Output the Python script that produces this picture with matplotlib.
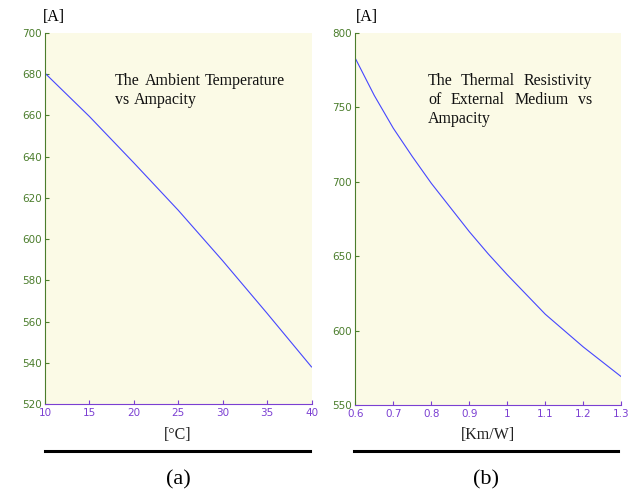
import matplotlib
matplotlib.use("Agg")
import matplotlib.pyplot as plt
from matplotlib.lines import Line2D

# ---- data ----
temp_c = [10, 15, 20, 25, 30, 35, 40]
amp_temp = [680.5, 659.5, 637, 614, 589.5, 564, 538]
temp_ticks = [10, 15, 20, 25, 30, 35, 40]
temp_yticks = [520, 540, 560, 580, 600, 620, 640, 660, 680, 700]

rho = [0.6, 0.65, 0.7, 0.75, 0.8, 0.9, 0.95, 1.0, 1.1, 1.2, 1.3]
amp_rho = [783, 758, 736, 717, 699, 666.5, 651.5, 637.5, 611, 589, 569]
rho_ticks = [0.6, 0.7, 0.8, 0.9, 1.0, 1.1, 1.2, 1.3]
rho_ticklabels = ["0.6", "0.7", "0.8", "0.9", "1", "1.1", "1.2", "1.3"]
rho_yticks = [550, 600, 650, 700, 750, 800]

# ---- style ----
BG = "#fbfae6"
GREEN = "#4b7d2c"
PURPLE = "#7b3fd2"
BLUE = "#4646ff"
SERIF = ["Liberation Serif", "DejaVu Serif"]
SANS = ["DejaVu Sans"]

W, H = 637, 497
fig = plt.figure(figsize=(W / 100, H / 100), dpi=100)


def px_axes(l, t, r, b):
    return fig.add_axes([l / W, 1 - b / H, (r - l) / W, (b - t) / H])


def style(ax):
    ax.set_facecolor(BG)
    for s in ("top", "right"):
        ax.spines[s].set_visible(False)
    ax.spines["left"].set_color(GREEN)
    ax.spines["bottom"].set_color(PURPLE)
    ax.tick_params(axis="y", direction="in", length=3, color=GREEN,
                   labelcolor=GREEN, labelsize=7.5, pad=2.5)
    ax.tick_params(axis="x", direction="in", length=3, color=PURPLE,
                   labelcolor=PURPLE, labelsize=7.5, pad=3)
    for lab in ax.get_xticklabels() + ax.get_yticklabels():
        lab.set_family(SANS)


ax1 = px_axes(45, 33, 311.5, 404)
ax1.plot(temp_c, amp_temp, color=BLUE, lw=0.8)
ax1.set_xlim(10, 40)
ax1.set_ylim(520, 700)
ax1.set_xticks(temp_ticks)
ax1.set_yticks(temp_yticks)
style(ax1)

ax2 = px_axes(355.3, 33, 621.3, 405)
ax2.plot(rho, amp_rho, color=BLUE, lw=0.8)
ax2.set_xlim(0.6, 1.3)
ax2.set_ylim(550, 800)
ax2.set_xticks(rho_ticks)
ax2.set_xticklabels(rho_ticklabels)
ax2.set_yticks(rho_yticks)
style(ax2)

FS = 11.5
# units
fig.text(43 / W, 1 - 17 / H, "[A]", family=SERIF, fontsize=FS, va="center", ha="left")
fig.text(356 / W, 1 - 17 / H, "[A]", family=SERIF, fontsize=FS, va="center", ha="left")
fig.text(178 / W, 1 - 435 / H, "[°C]", family=SERIF, fontsize=FS, va="center", ha="center", color="#222222")
fig.text(488 / W, 1 - 435 / H, "[Km/W]", family=SERIF, fontsize=FS, va="center", ha="center", color="#222222")

# captions and rules
fig.text(178 / W, 1 - 480 / H, "(a)", family=SERIF, fontsize=16, va="center", ha="center")
fig.text(486 / W, 1 - 480 / H, "(b)", family=SERIF, fontsize=16, va="center", ha="center")
fig.add_artist(Line2D([45 / W, 310 / W], [1 - 451 / H] * 2, color="black", lw=2.2))
fig.add_artist(Line2D([354 / W, 618 / W], [1 - 451 / H] * 2, color="black", lw=2.2))

renderer = fig.canvas.get_renderer()


def justified(words, x0, x1, baseline, justify=True):
    texts = [fig.text(0, 1 - baseline / H, w, family=SERIF, fontsize=FS,
                      va="baseline", ha="left", color="#111111") for w in words]
    widths = [t.get_window_extent(renderer).width for t in texts]
    if justify and len(words) > 1:
        gap = (x1 - x0 - sum(widths)) / (len(words) - 1)
    else:
        gap = 0.27 * FS * 100 / 72
    x = x0
    for t, w in zip(texts, widths):
        t.set_x(x / W)
        x += w + gap


justified(["The", "Ambient", "Temperature"], 115, 285, 85)
justified(["vs", "Ampacity"], 115, 285, 104, justify=False)
justified(["The", "Thermal", "Resistivity"], 428, 592, 85)
justified(["of", "External", "Medium", "vs"], 428, 592, 104)
justified(["Ampacity"], 428, 592, 123, justify=False)

fig.savefig("out.png", dpi=100)
